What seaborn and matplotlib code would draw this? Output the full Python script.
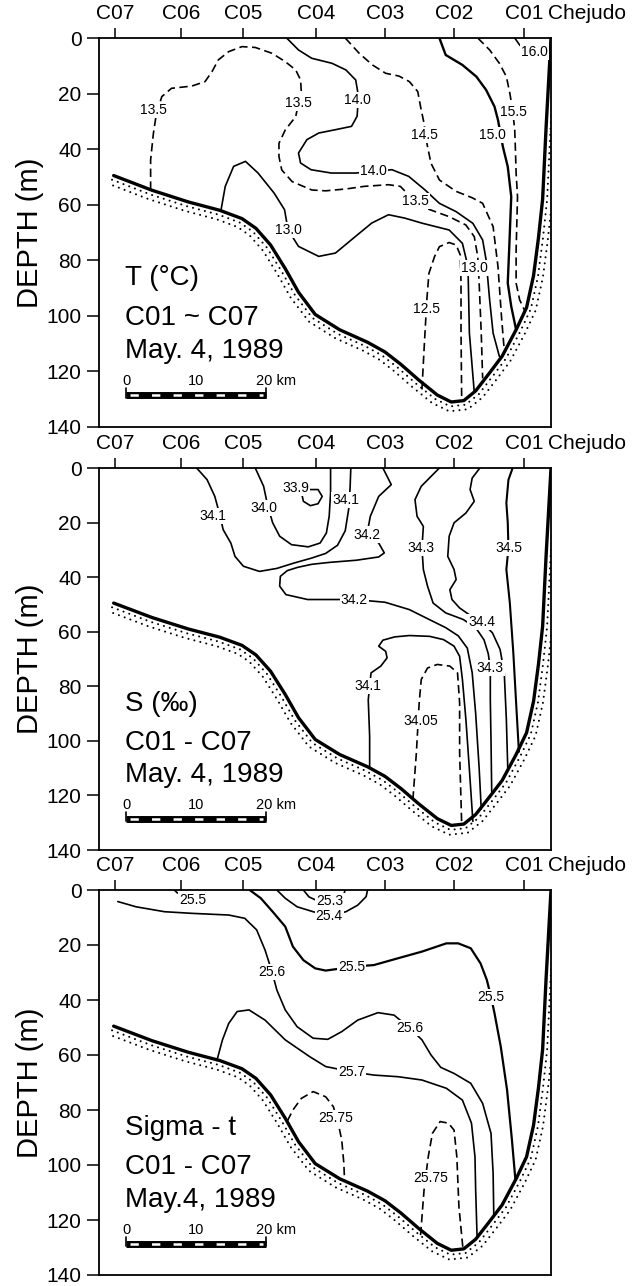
import numpy as np
import pandas as pd
import matplotlib
matplotlib.use("Agg")
import matplotlib.pyplot as plt
from matplotlib.transforms import offset_copy
import seaborn as sns

sns.set_theme(style="ticks")
plt.rcParams["font.family"] = ["Liberation Sans", "DejaVu Sans"]
plt.rcParams["lines.scale_dashes"] = False
plt.rcParams["axes.edgecolor"] = "black"
plt.rcParams["text.color"] = "black"
plt.rcParams["xtick.color"] = "black"
plt.rcParams["ytick.color"] = "black"

# ---- section geometry: distance along the section (km) and depth (m) ----
station_names = ["C07", "C06", "C05", "C04", "C03", "C02", "C01"]
station_km = [2.3, 11.8, 20.7, 31.1, 41.0, 50.9, 61.0]
section_length_km = 64.8
depth_ticks = [0, 20, 40, 60, 80, 100, 120, 140]

bottom_km = [2.1, 7.6, 12.8, 17.3, 20.5, 22.5, 24.6, 26.7, 28.6, 31.0, 34.5,
             38.5, 41.0, 43.3, 45.8, 48.5, 50.5, 52.3, 54.0, 56.0, 57.8, 59.8,
             61.3, 62.3, 63.0, 63.6, 64.1, 64.8]
bottom_depth = [49.5, 54.8, 59.0, 62.0, 65.0, 68.5, 74.5, 83.0, 91.5, 99.5,
                105.0, 109.5, 113.0, 117.5, 123.0, 128.5, 131.0, 130.5, 127.0,
                120.5, 114.5, 105.0, 97.0, 85.5, 72.0, 58.0, 32.0, 0.0]

# ---- temperature (deg C) isotherms: (km, depth) ----
t125 = [(46.3, 126.5), (46.6, 112.2), (47.0, 94.2), (47.3, 84.7), (48.1, 78.7),
        (48.8, 75.1), (50.2, 73.6), (51.2, 74.5), (51.8, 78.1), (51.9, 88.2),
        (51.9, 106.2), (52.0, 130.8)]
t130 = [(17.5, 61.8), (18.1, 53.4), (19.3, 46.2), (21.0, 44.4), (22.8, 48.6),
        (25.1, 55.8), (26.6, 61.8), (27.1, 69.0), (28.6, 75.0), (31.5, 78.6),
        (33.9, 77.4), (36.2, 72.6), (39.1, 66.6), (41.5, 63.6), (43.8, 64.8),
        (46.4, 66.7), (50.2, 69.1), (52.1, 73.9), (52.9, 82.3), (53.1, 106.2),
        (53.8, 127.5)]
t135 = [(7.4, 54.6), (7.4, 43.9), (7.8, 34.3), (8.2, 27.7), (9.0, 21.1),
        (10.4, 18.1), (13.3, 17.3), (15.2, 15.7), (16.2, 12.1), (17.1, 7.9),
        (18.6, 4.9), (20.5, 3.1), (22.4, 3.4), (24.8, 5.5), (26.7, 8.5),
        (28.2, 11.5), (28.9, 15.1), (29.0, 19.3), (28.6, 23.5), (28.2, 28.3),
        (26.7, 33.1), (25.8, 37.9), (25.8, 42.7), (26.2, 47.5), (27.7, 51.7),
        (30.5, 54.7), (32.5, 55.0), (35.5, 54.3), (38.0, 53.4), (41.5, 52.8),
        (43.2, 53.4), (45.3, 58.8), (46.9, 61.3), (50.2, 64.3), (52.6, 67.3),
        (53.8, 71.5), (54.3, 78.7), (54.5, 88.2), (54.8, 106.2), (55.0, 122.5)]
t140 = [(26.9, 0.0), (28.6, 4.3), (30.5, 7.3), (33.4, 9.1), (35.4, 11.5),
        (36.8, 15.1), (37.2, 21.0), (37.0, 28.2), (36.2, 31.8), (33.9, 33.0),
        (31.5, 34.2), (29.8, 36.6), (28.6, 41.4), (28.9, 45.0), (30.4, 47.4),
        (33.3, 48.6), (36.8, 48.6), (39.4, 48.0), (42.0, 47.4), (44.4, 49.8),
        (46.7, 54.6), (48.8, 59.5), (51.2, 62.5), (53.6, 66.7), (55.0, 72.7),
        (55.5, 79.9), (56.0, 94.2), (56.5, 106.2), (57.4, 114.6)]
t145 = [(35.3, 0.0), (37.3, 5.5), (39.2, 9.7), (41.1, 12.7), (43.0, 13.7),
        (44.5, 15.7), (45.7, 19.3), (46.1, 24.7), (46.6, 30.7), (46.8, 35.0),
        (47.1, 39.1), (47.6, 45.1), (48.8, 51.1), (51.2, 55.2), (53.5, 57.5),
        (55.0, 59.5), (56.5, 67.9), (57.2, 82.3), (57.7, 100.2), (58.1, 112.5)]
t150 = [(48.8, 0.0), (49.7, 6.1), (52.1, 9.7), (54.1, 13.9), (55.5, 18.7),
        (56.7, 24.7), (57.2, 29.5), (57.6, 35.0), (57.9, 39.1), (58.6, 46.3),
        (59.1, 57.1), (58.8, 76.3), (58.6, 88.2), (59.1, 96.6), (59.8, 105.0)]
t155 = [(54.3, 0.0), (56.0, 4.3), (57.4, 9.1), (58.4, 13.9), (58.9, 19.9),
        (59.3, 26.0), (59.6, 33.1), (59.7, 40.3), (59.8, 48.7), (60.0, 57.1),
        (59.8, 76.3), (59.8, 88.2), (60.3, 94.2), (61.1, 98.5)]
t160 = [(59.6, 0.0), (60.3, 2.5), (60.9, 3.8)]
t_labels = [("13.5", 7.8, 25.9), ("13.5", 28.6, 23.5), ("14.0", 37.0, 22.2),
            ("14.0", 39.4, 48.0), ("13.5", 45.3, 58.8), ("14.5", 46.6, 34.9),
            ("15.0", 56.4, 34.9), ("15.5", 59.4, 26.5), ("16.0", 62.4, 4.9),
            ("13.0", 27.1, 69.0), ("13.0", 53.8, 82.8), ("12.5", 47.0, 97.6)]

# ---- salinity (per mil) isohalines ----
s339 = [(29.1, 9.8), (30.0, 7.9), (31.4, 7.9), (32.0, 10.4), (31.4, 13.1),
        (30.3, 13.8), (29.3, 12.2), (29.1, 9.8)]
s340 = [(22.4, 0.0), (23.6, 6.7), (24.2, 14.0), (24.9, 20.1), (25.9, 25.0),
        (27.6, 28.1), (30.0, 28.9), (31.7, 27.5), (32.6, 23.8), (33.0, 17.7),
        (33.2, 9.2), (33.2, 0.0)]
s3405 = [(45.0, 121.5), (45.5, 104.4), (45.9, 86.1), (46.2, 77.5), (47.1, 73.3),
         (48.5, 72.0), (50.3, 72.6), (51.4, 75.1), (51.7, 86.1), (51.7, 104.4),
         (52.0, 131.0)]
s341_upper = [(14.0, 0.0), (15.5, 4.3), (16.6, 10.4), (17.3, 17.0), (17.8, 22.6),
              (18.9, 27.5), (19.5, 32.4), (20.7, 36.0), (23.0, 37.9), (25.5, 36.8),
              (28.0, 34.8), (30.5, 33.0), (32.5, 31.3), (34.2, 28.3), (35.3, 23.0),
              (35.8, 15.0), (36.0, 7.0), (36.1, 0.0)]
s341_lower = [(38.8, 109.9), (38.8, 98.3), (38.6, 85.0), (39.0, 75.1), (40.4, 72.6),
              (41.3, 69.6), (41.1, 67.2), (40.1, 65.3), (40.7, 63.1), (42.4, 61.9),
              (44.5, 61.4), (47.4, 61.7), (49.4, 62.9), (50.9, 65.3), (51.7, 69.0),
              (52.1, 77.5), (52.6, 92.2), (53.1, 110.5), (53.6, 129.5)]
s342 = [(40.7, 0.0), (41.9, 6.1), (40.1, 10.4), (38.9, 17.7), (38.4, 24.4),
        (40.1, 27.5), (40.9, 31.1), (40.1, 32.6), (36.9, 33.8), (33.0, 34.6),
        (30.5, 35.3), (28.5, 36.4), (27.0, 37.6), (26.0, 39.7), (25.9, 43.3),
        (26.8, 46.4), (29.9, 48.2), (33.4, 48.2), (36.6, 48.2), (41.0, 49.2),
        (44.5, 51.9), (47.4, 55.6), (49.7, 58.5), (51.5, 61.5), (52.8, 66.0),
        (53.5, 75.0), (54.0, 90.0), (54.5, 110.0), (54.8, 125.0)]
s343 = [(48.8, 0.0), (46.2, 6.7), (45.3, 11.6), (45.6, 17.7), (46.5, 21.4),
        (46.3, 29.3), (46.5, 37.2), (47.1, 43.3), (47.9, 49.5), (49.7, 53.1),
        (52.2, 55.5), (54.0, 58.5), (55.2, 63.0), (55.8, 68.0), (56.1, 73.3),
        (56.1, 85.0), (56.2, 100.0), (56.3, 118.5)]
s344 = [(54.6, 0.0), (53.5, 3.7), (53.2, 7.9), (53.8, 12.2), (52.6, 16.5),
        (50.9, 20.1), (50.2, 25.0), (50.0, 32.4), (50.9, 37.2), (51.2, 40.9),
        (50.3, 44.6), (50.6, 48.2), (51.7, 51.3), (53.5, 54.5), (54.9, 56.5),
        (56.4, 60.4), (57.5, 66.5), (58.1, 75.1), (58.4, 92.2), (58.6, 110.0)]
s345 = [(59.3, 0.0), (58.7, 4.3), (58.4, 12.8), (58.6, 20.0), (58.7, 29.3),
        (58.4, 37.2), (58.9, 49.5), (59.4, 67.8), (59.8, 86.1), (60.2, 104.0)]
s_labels = [("34.1", 16.3, 17.7), ("34.0", 23.6, 14.7), ("33.9", 28.2, 7.4),
            ("34.1", 35.4, 11.6), ("34.2", 38.4, 24.4), ("34.2", 36.6, 48.2),
            ("34.3", 46.2, 29.3), ("34.5", 58.7, 29.3), ("34.4", 54.9, 56.5),
            ("34.3", 56.1, 73.3), ("34.1", 38.6, 80.0), ("34.05", 46.2, 92.8)]

# ---- sigma-t isopycnals ----
g253 = [(29.3, 0.0), (30.1, 2.5), (31.2, 3.8), (33.1, 4.0), (34.4, 3.2),
        (35.1, 1.5), (35.3, 0.0)]
g254 = [(25.5, 0.0), (26.7, 3.0), (28.4, 6.1), (30.7, 7.9), (33.0, 9.3),
        (35.4, 7.9), (37.1, 5.5), (38.3, 2.4), (38.5, 0.0)]
g255_west = [(10.8, 0.0), (11.2, 1.0), (11.8, 1.6)]
g255 = [(21.6, 0.0), (23.2, 3.0), (24.9, 7.9), (26.7, 13.3), (27.8, 20.6),
        (29.3, 25.5), (31.0, 28.5), (32.5, 29.3), (34.5, 28.6), (36.2, 27.9),
        (39.4, 27.3), (42.9, 24.8), (46.3, 22.4), (49.8, 19.4), (51.5, 19.4),
        (53.3, 21.2), (54.7, 26.7), (55.6, 32.7), (56.2, 38.8), (56.7, 44.8),
        (57.6, 57.0), (58.5, 72.7), (59.2, 90.9), (59.7, 105.5)]
g256 = [(2.7, 4.2), (5.3, 6.1), (9.4, 7.9), (13.4, 8.5), (18.6, 9.1),
        (20.9, 10.3), (22.6, 14.5), (23.8, 21.8), (24.8, 29.7), (25.5, 36.4),
        (26.7, 43.6), (28.4, 49.7), (30.7, 53.9), (32.8, 54.3), (34.8, 51.5),
        (37.1, 47.3), (40.0, 44.6), (42.3, 45.5), (44.6, 50.3), (46.3, 54.5),
        (47.6, 60.0), (49.0, 64.5), (50.9, 66.7), (53.3, 70.3), (55.0, 77.6),
        (56.2, 88.5), (56.5, 103.0), (56.6, 118.5)]
g257 = [(16.9, 62.0), (17.7, 54.5), (18.6, 48.5), (19.8, 44.2), (21.5, 43.6),
        (23.8, 47.3), (26.7, 54.5), (30.2, 60.6), (32.5, 64.2), (36.2, 66.1),
        (39.4, 67.3), (42.9, 67.9), (46.3, 69.1), (49.8, 72.1), (52.1, 76.4),
        (53.4, 84.8), (53.9, 97.0), (54.0, 109.1), (54.2, 126.0)]
g2575_west = [(27.0, 84.0), (27.8, 80.0), (29.0, 75.8), (30.7, 73.3), (32.5, 75.2),
              (33.6, 78.8), (34.3, 85.0), (34.8, 90.9), (35.1, 99.4), (35.2, 105.5)]
g2575_east = [(46.1, 125.5), (46.6, 109.1), (47.2, 97.0), (47.8, 88.5), (48.9, 84.2),
              (50.1, 84.8), (50.9, 87.3), (51.3, 97.0), (51.6, 115.2), (52.2, 131.0)]
g_labels = [("25.5", 13.4, 3.6), ("25.3", 33.1, 3.9), ("25.4", 33.0, 9.3),
            ("25.5", 36.2, 27.9), ("25.6", 24.8, 29.7), ("25.5", 56.2, 38.8),
            ("25.6", 44.6, 50.3), ("25.7", 36.2, 66.1), ("25.75", 33.9, 83.0),
            ("25.75", 47.5, 104.8)]

panel_titles = [
    ["T (°C)", "C01 ~ C07", "May. 4, 1989"],
    ["S (‰)", "C01 - C07", "May. 4, 1989"],
    ["Sigma - t", "C01 - C07", "May.4, 1989"],
]

# scale bar: 0-20 km
scale_start_km = 3.9
scale_ticks_km = [0, 10, 20]

SOLID = "-"
DASHED = (0, (6.0, 3.2))

panels = [
    dict(lines=[(t125, DASHED, 1.2), (t130, SOLID, 1.2), (t135, DASHED, 1.2),
                (t140, SOLID, 1.2), (t145, DASHED, 1.2), (t150, SOLID, 1.7),
                (t155, DASHED, 1.2), (t160, SOLID, 1.2)],
         labels=t_labels, title=panel_titles[0]),
    dict(lines=[(s339, SOLID, 1.2), (s340, SOLID, 1.2), (s3405, DASHED, 1.2),
                (s341_upper, SOLID, 1.2), (s341_lower, SOLID, 1.2),
                (s342, SOLID, 1.2), (s343, SOLID, 1.2), (s344, SOLID, 1.2),
                (s345, SOLID, 1.5)],
         labels=s_labels, title=panel_titles[1]),
    dict(lines=[(g253, SOLID, 1.2), (g254, SOLID, 1.2), (g255_west, SOLID, 1.2),
                (g255, SOLID, 1.6), (g256, SOLID, 1.2), (g257, SOLID, 1.2),
                (g2575_west, DASHED, 1.2), (g2575_east, DASHED, 1.2)],
         labels=g_labels, title=panel_titles[2]),
]

W, H = 633, 1286
fig = plt.figure(figsize=(W / 100, H / 100), dpi=100)
left_px, right_px = 99, 551
frames_px = [(38, 427), (468, 850), (890, 1275)]


def offset_curve(ax, xs, ys, dist_px):
    """Shift a data-space curve sideways by a fixed distance in pixels."""
    pts = ax.transData.transform(np.column_stack([xs, ys]))
    d = np.gradient(pts, axis=0)
    t = d / np.linalg.norm(d, axis=1)[:, None]
    normal = np.column_stack([t[:, 1], -t[:, 0]])
    return ax.transData.inverted().transform(pts + normal * dist_px)


for panel, (top_px, bot_px) in zip(panels, frames_px):
    ax = fig.add_axes([left_px / W, 1 - bot_px / H,
                       (right_px - left_px) / W, (bot_px - top_px) / H])
    ax.set_xlim(0, section_length_km)
    ax.set_ylim(140, 0)

    # isolines
    for pts, style, lw in panel["lines"]:
        df = pd.DataFrame(pts, columns=["km", "depth"])
        sns.lineplot(data=df, x="km", y="depth", sort=False, estimator=None,
                     ax=ax, color="black", linewidth=lw, linestyle=style,
                     solid_joinstyle="round", solid_capstyle="round")

    # sea floor with stippled band beneath it
    bed = pd.DataFrame({"km": bottom_km, "depth": bottom_depth})
    sns.lineplot(data=bed, x="km", y="depth", sort=False, estimator=None, ax=ax,
                 color="black", linewidth=2.4, solid_joinstyle="round",
                 solid_capstyle="round", zorder=4)
    for dist, phase in [(4.5, 0.0), (9.5, 2.2)]:
        off = offset_curve(ax, bottom_km, bottom_depth, dist)
        ax.plot(off[:, 0], off[:, 1], color="black", linewidth=1.5,
                linestyle=(phase, (0.01, 4.4)), dash_capstyle="round", zorder=3)

    # isoline values
    for txt, x, y in panel["labels"]:
        ax.text(x, y, txt, fontsize=10, ha="center", va="center", zorder=6,
                bbox=dict(boxstyle="square,pad=0.08", fc="white", ec="none"))

    # panel caption
    for txt, y in zip(panel["title"], [86.5, 100.8, 112.6]):
        ax.text(3.7, y, txt, fontsize=20, ha="left", va="center", zorder=6)

    # scale bar
    x0, x1 = scale_start_km, scale_start_km + scale_ticks_km[-1]
    ax.plot([x0, x1], [128.6, 128.6], color="black", linewidth=5.0,
            solid_capstyle="butt", zorder=5)
    ax.plot([x0 + 0.6, x1 - 0.4], [128.6, 128.6], color="white", linewidth=1.8,
            linestyle=(0, (6.0, 9.5)), zorder=6)
    for k in (scale_ticks_km[0], scale_ticks_km[-1]):
        ax.plot([x0 + k, x0 + k], [126.0, 129.5], color="black", linewidth=1.2,
                zorder=6)
    for k in scale_ticks_km:
        lab = f"{k}" if k < scale_ticks_km[-1] else f"{k} km"
        ha = "center" if k < scale_ticks_km[-1] else "left"
        xx = x0 + k if k < scale_ticks_km[-1] else x0 + k - 1.4
        ax.text(xx, 123.6, lab, fontsize=10.5, ha=ha, va="center", zorder=6)

    # axes
    ax.set_xlabel("")
    ax.set_ylabel("")
    ax.xaxis.tick_top()
    ax.set_xticks(station_km)
    ax.set_xticklabels(station_names)
    ax.set_yticks(depth_ticks)
    ax.set_yticklabels([str(v) for v in depth_ticks])
    ax.tick_params(axis="x", top=True, bottom=False, labeltop=True,
                   labelbottom=False, direction="out", length=7, width=1.1,
                   pad=4, labelsize=15)
    ax.tick_params(axis="y", left=True, right=False, direction="out",
                   length=8.5, width=1.1, pad=4, labelsize=15)
    for sp in ax.spines.values():
        sp.set_visible(True)
        sp.set_color("black")
        sp.set_linewidth(1.3)

    ax.text(64.4, 1.0, "Chejudo", fontsize=15, ha="left", va="bottom",
            transform=offset_copy(ax.get_xaxis_transform(), fig=fig,
                                  x=0, y=11, units="points"),
            clip_on=False)

    fig.text(30 / W, 1 - (top_px + bot_px) / 2 / H, "DEPTH (m)", fontsize=21,
             rotation=90, ha="center", va="center")

fig.savefig("out.png", dpi=100)
